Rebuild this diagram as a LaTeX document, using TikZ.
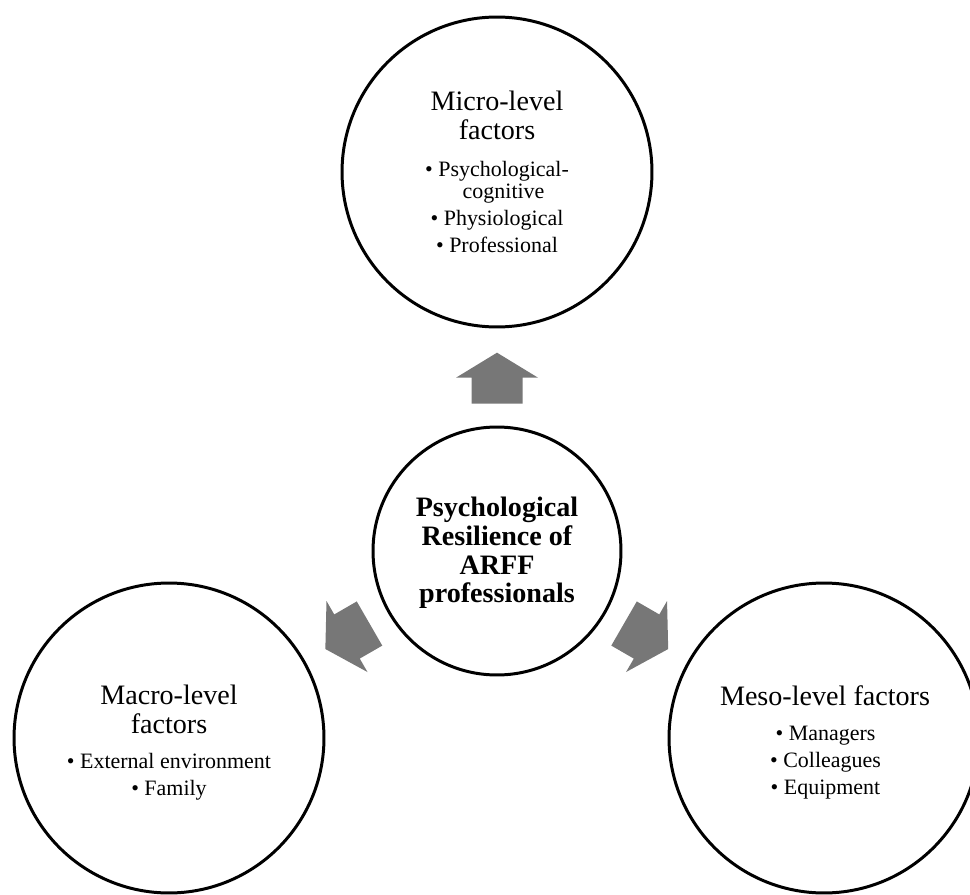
\documentclass[tikz,border=0pt]{standalone}
\usepackage{fontspec}
\setmainfont{Liberation Serif}
\usetikzlibrary{calc}
\definecolor{arrowgrey}{RGB}{119,119,119}
\tikzset{
  ring/.style={circle,draw=black,line width=1.7pt,minimum size=6.2cm,inner sep=0pt},
  headtext/.style={align=center,inner sep=0pt,font=\fontsize{16}{16.1}\selectfont},
  itemtext/.style={align=center,inner sep=0pt,font=\fontsize{12.5}{15.2}\selectfont},
  fatarrow/.pic={\fill[arrowgrey] (-25.5,-25.5) -- (0.5,-25.5) -- (0.5,-41) -- (25.5,0)
    -- (0.5,41) -- (0.5,25.5) -- (-25.5,25.5) -- cycle;}
}
\begin{document}
\begin{tikzpicture}[x=0.02cm,y=0.02cm]
  \useasboundingbox (0,0) rectangle (970,894);
  % the core circle
  \node[ring,minimum size=4.96cm] (core) at (497,343) {};
  \node[align=center,inner sep=0pt,font=\bfseries\fontsize{16}{16.4}\selectfont] (coretext)
    at (497,341) {Psychological\\Resilience of\\ARFF\\professionals};
  % micro-level circle on top
  \node[ring] (micro) at (497,722) {};
  \node[headtext] (microhead) at (497,778.5) {Micro-level\\factors};
  \node[itemtext] (microlist) at (497,687.3) {\textbullet{} Psychological-\\[-2.3pt]
    \hphantom{\textbullet{} }cognitive\\\textbullet{} Physiological\\\textbullet{} Professional};
  % macro-level circle bottom left
  \node[ring] (macro) at (169,156) {};
  \node[headtext] (macrohead) at (169,184.5) {Macro-level\\factors};
  \node[itemtext] (macrolist) at (169,117.1) {\textbullet{} External environment\\\textbullet{} Family};
  % meso-level circle bottom right
  \node[ring] (meso) at (824,156) {};
  \node[headtext] (mesohead) at (825,198.5) {Meso-level factors};
  \node[itemtext] (mesolist) at (825.5,131.2) {\textbullet{} Managers\\\textbullet{} Colleagues\\\textbullet{} Equipment};
  % the three block arrows
  \pic[rotate=90] at ($(core)!0.456!(micro)$) {fatarrow};
  \pic[rotate=210] at ($(core)!0.456!(macro)$) {fatarrow};
  \pic[rotate=-30] at ($(core)!0.456!(meso)$) {fatarrow};
\end{tikzpicture}
\end{document}
